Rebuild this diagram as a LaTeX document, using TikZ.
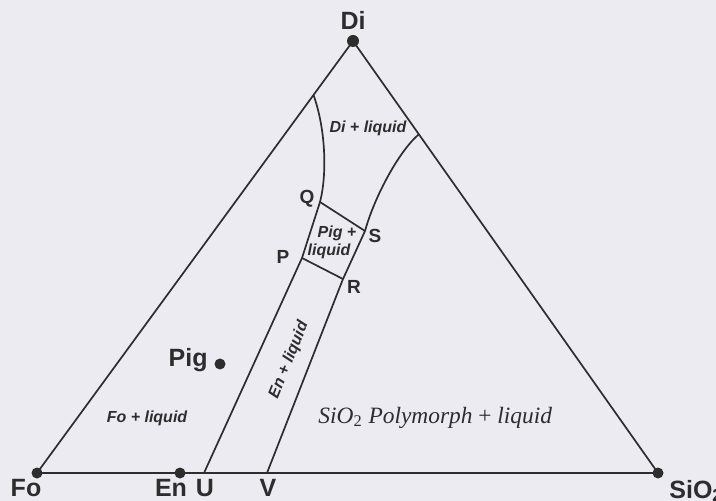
\documentclass[tikz,border=0pt]{standalone}
\usepackage{fontspec}
\setmainfont{Liberation Sans}
\newfontfamily\serifit{Liberation Serif}
\usetikzlibrary{calc,positioning}
\definecolor{paper}{RGB}{236,235,241}
\definecolor{ink}{RGB}{45,45,48}

\begin{document}
\begin{tikzpicture}[x=0.5pt,y=-0.5pt,
  phase/.style={draw=ink,line width=0.85pt},
  vertex/.style={circle,fill=ink,inner sep=0pt,minimum size=5.5pt},
  endmember/.style={text=ink,font=\fontsize{12.5}{12.5}\selectfont\bfseries,inner sep=0pt},
  pointlbl/.style={text=ink,font=\fontsize{9.5}{9.5}\selectfont\bfseries,inner sep=0pt},
  field/.style={text=ink,font=\fontsize{8}{8}\selectfont\bfseries\itshape,inner sep=0pt}]
  % Page (fixes the margins)
  \fill[paper] (0,0) rectangle (716,501);
  \useasboundingbox (0,0) rectangle (716,501);

  % Corners of the triangle and En on the base
  \node[vertex] (Fo) at (37,473) {};
  \node[vertex] (En) at (180,473) {};
  \node[vertex] (SiO) at (658,473) {};
  \node[vertex,minimum size=6pt] (Di) at (353,41) {};
  \draw[phase] (Fo.center) -- (Di.center) -- (SiO.center) -- cycle;

  % Points on the phase boundaries
  \coordinate (U) at (204,473);
  \coordinate (V) at (267,473);
  \coordinate (P) at (302,258);
  \coordinate (Q) at (320,202);
  \coordinate (R) at (343,279);
  \coordinate (S) at (365,231);
  \coordinate (A) at ($(Di.center)!0.125!(Fo.center)$);
  \coordinate (B) at ($(Di.center)!0.216!(SiO.center)$);

  % Phase boundaries
  \draw[phase] (A) .. controls (326,130) and (327,175) .. (Q) -- (P) -- (U);
  \draw[phase] (B) .. controls (400,150) and (375,195) .. (S) -- (R) -- (V);
  \draw[phase] (Q) -- (S);
  \draw[phase] (P) -- (R);

  % Pig composition
  \node[vertex] (Pig) at (220,364) {};
  \node[endmember,anchor=base east] (PigL) at (208,367) {Pig};

  % Corner labels
  \node[endmember,anchor=base] (DiL) at (353,30) {Di};
  \node[endmember,anchor=base] (FoL) at (26,496) {Fo};
  \node[endmember,anchor=base] (EnL) at (171,496) {En};
  \node[endmember,anchor=base] (UL) at (205,496) {U};
  \node[endmember,anchor=base] (VL) at (268,496) {V};
  \node[endmember,anchor=base west] (SiOL) at (669,498) {SiO\textsubscript{2}};

  % Point labels
  \node[pointlbl] (QL) at (307,199) {Q};
  \node[pointlbl] (SL) at (375,236) {S};
  \node[pointlbl] (PL) at (283,257) {P};
  \node[pointlbl] (RL) at (354,287) {R};

  % Fields
  \node[field] (DiLiq) at (368,128) {Di + liquid};
  \node[field] (PigLiq1) at (337,233) {Pig +};
  \node[field] (PigLiq2) at (329,251) {liquid};
  \node[field] (FoLiq) at (147,418) {Fo + liquid};
  \node[field,rotate=68] (EnLiq) at (289,360) {En + liquid};
  \node[text=ink,font=\serifit\fontsize{11.7}{11.7}\selectfont,inner sep=0pt,anchor=base west] (SiLiq) at (318,423)
    {\itshape SiO\textsubscript{\upshape 2} Polymorph \upshape+ \itshape liquid};
\end{tikzpicture}
\end{document}
